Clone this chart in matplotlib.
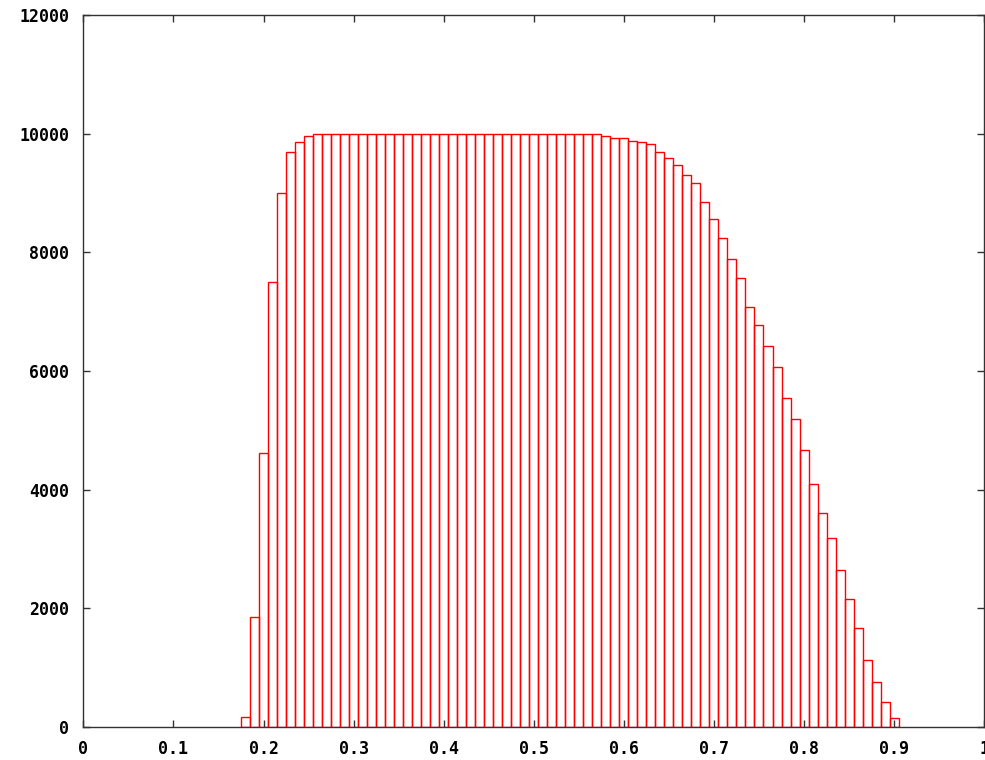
import matplotlib
matplotlib.use('Agg')
import matplotlib.pyplot as plt

# centres des boites (largeur 0.01) et hauteurs
centres = [round(0.18 + 0.01 * i, 2) for i in range(73)]
hauteurs = [
    174, 1859, 4612, 7503, 9003, 9683, 9852, 9964, 9987, 9987,   # 0.18 - 0.27
    10000, 10000, 10000, 10000, 10000, 10000, 10000, 10000, 10000, 10000,  # 0.28 - 0.37
    10000, 10000, 10000, 10000, 10000, 10000, 10000, 10000, 10000, 10000,  # 0.38 - 0.47
    10000, 10000, 10000, 10000, 10000, 10000, 9987, 9987, 9987, 9987,      # 0.48 - 0.57
    9964, 9930, 9930, 9879, 9852, 9824, 9683, 9582, 9470, 9301,            # 0.58 - 0.67
    9161, 8841, 8565, 8240, 7886, 7561, 7072, 6769, 6420, 6061,            # 0.68 - 0.77
    5539, 5190, 4667, 4094, 3601, 3180, 2645, 2157, 1668, 1129,            # 0.78 - 0.87
    763, 416, 146,                                                          # 0.88 - 0.90
]
xticks = [0, 0.1, 0.2, 0.3, 0.4, 0.5, 0.6, 0.7, 0.8, 0.9, 1]
xlabels = ['0', '0.1', '0.2', '0.3', '0.4', '0.5', '0.6', '0.7', '0.8', '0.9', '1']
yticks = [0, 2000, 4000, 6000, 8000, 10000, 12000]

plt.rcParams['font.family'] = 'DejaVu Sans Mono'
plt.rcParams['font.weight'] = 'bold'

fig = plt.figure(figsize=(9.85, 7.6), dpi=100)
ax = fig.add_axes([0.0846, 0.0434, 0.9146, 0.9369])

ax.bar(centres, hauteurs, width=0.01, fill=False, edgecolor='red', linewidth=1.0)

ax.set_xlim(0, 1)
ax.set_ylim(0, 12000)
ax.set_xticks(xticks)
ax.set_xticklabels(xlabels)
ax.set_yticks(yticks)
ax.set_yticklabels([str(v) for v in yticks])

for s in ax.spines.values():
    s.set_color('#333333')
    s.set_linewidth(1.0)

ax.tick_params(axis='both', direction='in', length=5, width=1, color='#333333',
               top=True, right=True, labelsize=12, labelcolor='black')
ax.tick_params(axis='y', pad=10)
ax.tick_params(axis='x', pad=9)

fig.savefig('out.png', dpi=100)
